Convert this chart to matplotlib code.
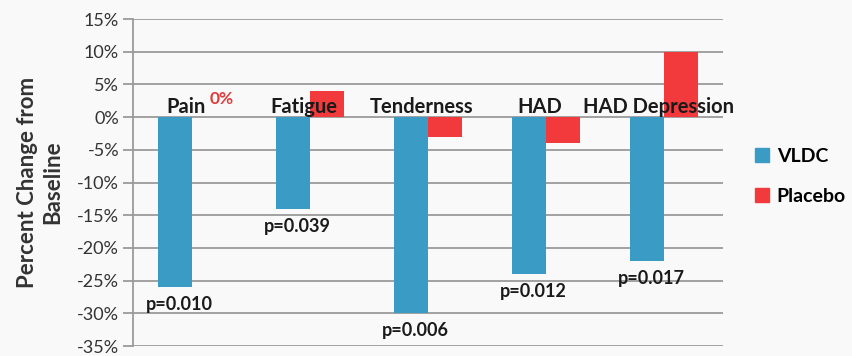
import numpy as np
import matplotlib.pyplot as plt
from matplotlib.patches import Patch
from matplotlib.ticker import FuncFormatter

plt.rcParams['font.family'] = ['Lato', 'DejaVu Sans']

# data
categories = ['Pain', 'Fatigue', 'Tenderness', 'HAD', 'HAD Depression']
vldc = [-26, -14, -30, -24, -22]
placebo = [0, 4, -3, -4, 10]
p_values = ['p=0.010', 'p=0.039', 'p=0.006', 'p=0.012', 'p=0.017']
y_ticks = [15, 10, 5, 0, -5, -10, -15, -20, -25, -30, -35]

blue = '#3a9bc5'
red = '#f2393b'
grid_col = '#9a9a9a'
text_col = '#1a1a1a'

fig = plt.figure(figsize=(8.52, 3.56), dpi=100)
fig.patch.set_facecolor('#f9f9f9')
ax = fig.add_axes([0.156, 0.028, 0.6926, 0.9185])
ax.set_facecolor('none')

x = np.arange(len(categories))
w = 0.288
ax.bar(x - w / 2, vldc, w, color=blue, zorder=3)
ax.bar(x + w / 2, placebo, w, color=red, zorder=3)

ax.set_xlim(-0.5, len(categories) - 0.5)
ax.set_ylim(-35, 15)
ax.set_yticks(y_ticks)
ax.yaxis.set_major_formatter(FuncFormatter(lambda v, p: f'{v:.0f}%'))
ax.tick_params(axis='y', length=7, width=1.3, color=grid_col, labelsize=13,
               labelcolor='#333333', pad=3)
ax.set_xticks([])
ax.grid(axis='y', color=grid_col, linewidth=1.3, zorder=0)
for s in ['top', 'right', 'bottom']:
    ax.spines[s].set_visible(False)
ax.spines['left'].set_color(grid_col)
ax.spines['left'].set_linewidth(1.3)

ax.set_ylabel('Percent Change from\nBaseline', fontsize=16, fontweight='bold',
              color='#333333', labelpad=10, linespacing=1.25)

# category labels above the zero line
for i, c in enumerate(categories):
    ax.text(i - 0.05, 0.7, c, ha='center', va='baseline', fontsize=14.5,
            fontweight='bold', color=text_col, zorder=4)

# 0% label for the pain placebo bar
ax.text(x[0] + 0.25, 2.0, f'{placebo[0]}%', ha='center', va='baseline',
        fontsize=12.5, fontweight='bold', color='#e03a3a', zorder=4)

# p-values below VLDC bars
for i, (v, p) in enumerate(zip(vldc, p_values)):
    ax.text(i - w / 2 + 0.04, v - 1.4, p, ha='center', va='top', fontsize=13,
            fontweight='bold', color=text_col, zorder=4)

handles = [Patch(color=blue, label='VLDC'), Patch(color=red, label='Placebo')]
fig.legend(handles=handles, loc='center left', bbox_to_anchor=(0.866, 0.505),
           frameon=False, prop={'weight': 'bold', 'size': 14},
           handlelength=0.7, handleheight=0.7, handletextpad=0.4,
           labelspacing=1.2)

fig.savefig('out.png', dpi=100, facecolor=fig.get_facecolor())
